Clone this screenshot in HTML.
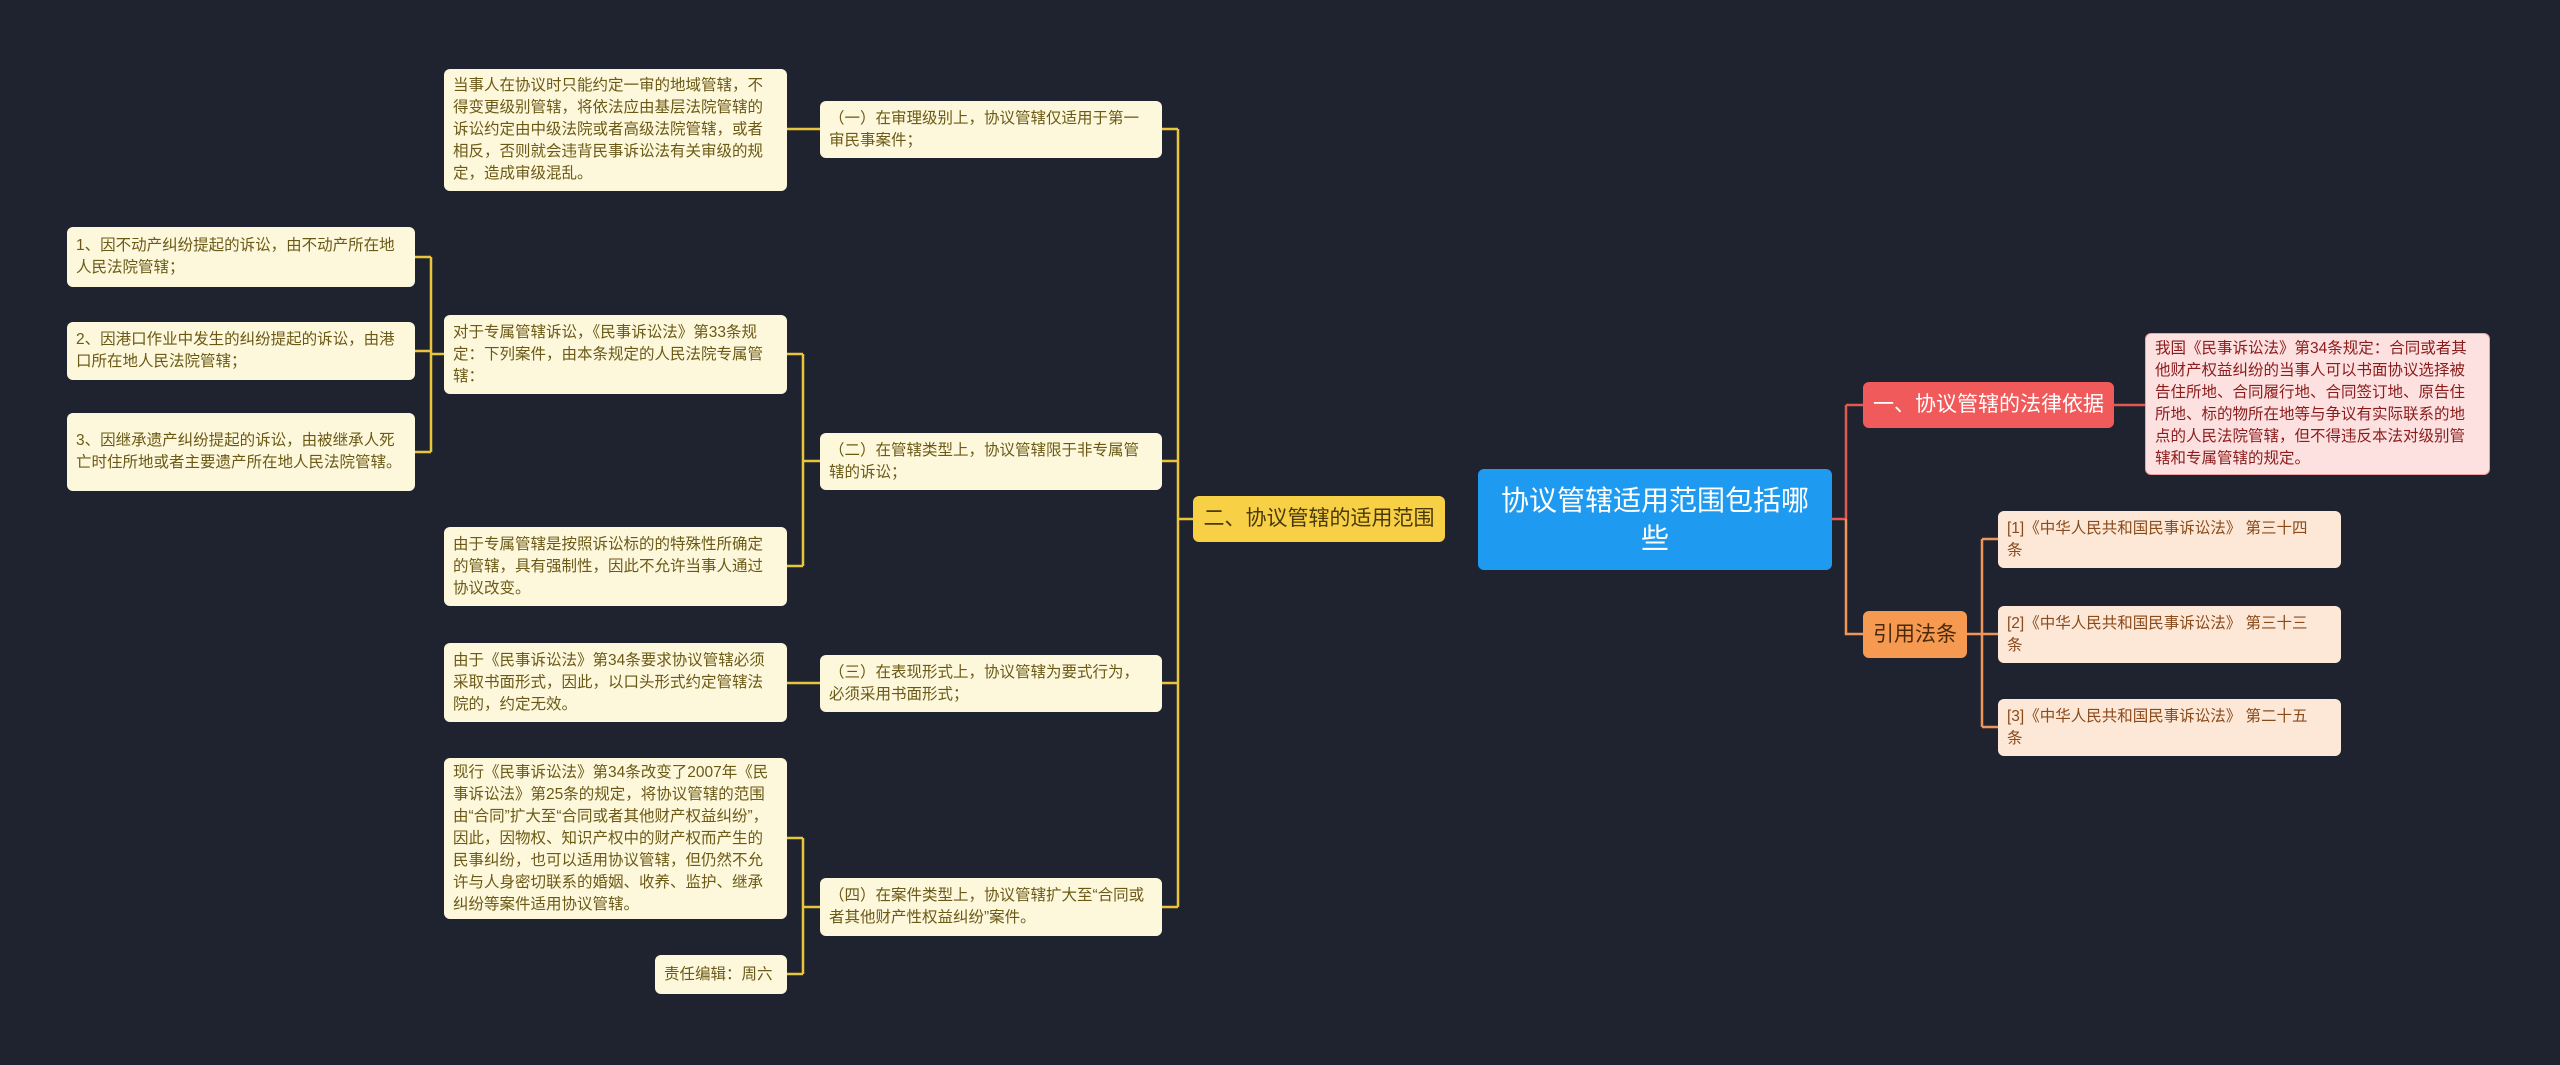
<!DOCTYPE html>
<html><head><meta charset="utf-8"><style>
body{margin:0;width:2560px;height:1065px;background:#1f2330;position:relative;overflow:hidden;font-family:"Liberation Sans","Noto Sans CJK SC",sans-serif}
.n{position:absolute;box-sizing:border-box;border-radius:6px;font-size:15.5px;line-height:22px;padding:6px 9px;color:#6b5a16;background:#fdf7dc;display:flex;align-items:center}
.p{background:#fde0e0;color:#8a1c1c;border:1px solid #f0a0a0}
.r{background:#fde8d8;color:#8a4a1a}
.b{justify-content:center;text-align:center;font-size:21px;line-height:28px}
svg{position:absolute;left:0;top:0}
</style></head><body>
<svg width="2560" height="1065" fill="none">
<g stroke="#e8c53a" stroke-width="2.5">
<path d="M1193 519H1178M1178 129V907M1178 129H1162M1178 461H1162M1178 683H1162M1178 907H1162"/>
<path d="M820 129H787"/>
<path d="M820 461H803M803 354V566M803 354H787M803 566H787"/>
<path d="M820 683H787"/>
<path d="M820 907H803M803 838V974M803 838H787M803 974H787"/>
<path d="M444 354H431M431 257V452M431 257H415M431 351H415M431 452H415"/>
</g>
<path d="M1832 519H1846M1846 405V519M1846 405H1863M2114 405H2145" stroke="#e05a50" stroke-width="2.5"/>
<path d="M1846 519V634H1863M1967 634H1982M1982 539V727M1982 539H1998M1982 634H1998M1982 727H1998" stroke="#f0955a" stroke-width="2.5"/>
</svg>

<div class="n b" style="left:1478px;top:469px;width:354px;height:101px;background:#1e9af0;color:#fff;font-size:28px;line-height:38px;padding:0 14px">协议管辖适用范围包括哪些</div>
<div class="n b" style="left:1193px;top:496px;width:252px;height:46px;background:#f7d046;color:#4a3a0a">二、协议管辖的适用范围</div>
<div class="n b" style="left:1863px;top:382px;width:251px;height:46px;background:#f05a5a;color:#fff">一、协议管辖的法律依据</div>
<div class="n b" style="left:1863px;top:611px;width:104px;height:47px;background:#f59a50;color:#4a2a0a">引用法条</div>

<div class="n p" style="left:2145px;top:333px;width:345px;height:142px">我国《民事诉讼法》第34条规定：合同或者其他财产权益纠纷的当事人可以书面协议选择被告住所地、合同履行地、合同签订地、原告住所地、标的物所在地等与争议有实际联系的地点的人民法院管辖，但不得违反本法对级别管辖和专属管辖的规定。</div>
<div class="n r" style="left:1998px;top:511px;width:343px;height:57px">[1]《中华人民共和国民事诉讼法》 第三十四<br>条</div>
<div class="n r" style="left:1998px;top:606px;width:343px;height:57px">[2]《中华人民共和国民事诉讼法》 第三十三<br>条</div>
<div class="n r" style="left:1998px;top:699px;width:343px;height:57px">[3]《中华人民共和国民事诉讼法》 第二十五<br>条</div>

<div class="n" style="left:820px;top:101px;width:342px;height:57px">（一）在审理级别上，协议管辖仅适用于第一审民事案件；</div>
<div class="n" style="left:820px;top:433px;width:342px;height:57px">（二）在管辖类型上，协议管辖限于非专属管辖的诉讼；</div>
<div class="n" style="left:820px;top:655px;width:342px;height:57px">（三）在表现形式上，协议管辖为要式行为，必须采用书面形式；</div>
<div class="n" style="left:820px;top:878px;width:342px;height:58px">（四）在案件类型上，协议管辖扩大至“合同或者其他财产性权益纠纷”案件。</div>

<div class="n" style="left:444px;top:69px;width:343px;height:122px">当事人在协议时只能约定一审的地域管辖，不得变更级别管辖，将依法应由基层法院管辖的诉讼约定由中级法院或者高级法院管辖，或者相反，否则就会违背民事诉讼法有关审级的规定，造成审级混乱。</div>
<div class="n" style="left:444px;top:315px;width:343px;height:79px">对于专属管辖诉讼，《民事诉讼法》第33条规定：下列案件，由本条规定的人民法院专属管辖：</div>
<div class="n" style="left:444px;top:527px;width:343px;height:79px">由于专属管辖是按照诉讼标的的特殊性所确定的管辖，具有强制性，因此不允许当事人通过协议改变。</div>
<div class="n" style="left:444px;top:643px;width:343px;height:79px">由于《民事诉讼法》第34条要求协议管辖必须采取书面形式，因此，以口头形式约定管辖法院的，约定无效。</div>
<div class="n" style="left:444px;top:758px;width:343px;height:161px">现行《民事诉讼法》第34条改变了2007年《民事诉讼法》第25条的规定，将协议管辖的范围由“合同”扩大至“合同或者其他财产权益纠纷”，因此，因物权、知识产权中的财产权而产生的民事纠纷，也可以适用协议管辖，但仍然不允许与人身密切联系的婚姻、收养、监护、继承纠纷等案件适用协议管辖。</div>
<div class="n" style="left:655px;top:955px;width:132px;height:39px">责任编辑：周六</div>

<div class="n" style="left:67px;top:227px;width:348px;height:60px">1、因不动产纠纷提起的诉讼，由不动产所在地人民法院管辖；</div>
<div class="n" style="left:67px;top:322px;width:348px;height:58px">2、因港口作业中发生的纠纷提起的诉讼，由港口所在地人民法院管辖；</div>
<div class="n" style="left:67px;top:413px;width:348px;height:78px">3、因继承遗产纠纷提起的诉讼，由被继承人死亡时住所地或者主要遗产所在地人民法院管辖。</div>
</body></html>
